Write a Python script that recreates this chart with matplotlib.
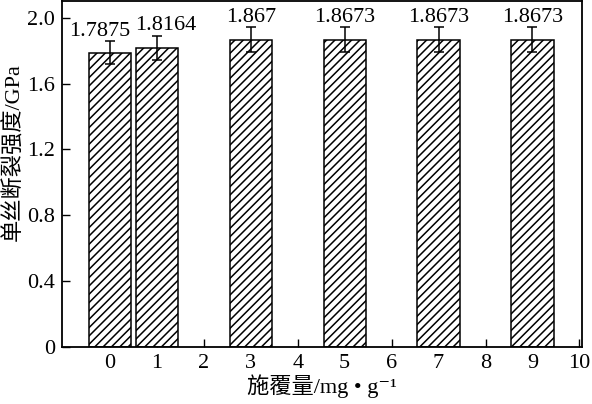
import matplotlib
matplotlib.use('Agg')
import matplotlib.pyplot as plt

positions = [0, 1, 3, 5, 7, 9]
strength = [1.7875, 1.8164, 1.867, 1.8673, 1.8673, 1.8673]
errors = [0.07, 0.075, 0.075, 0.075, 0.075, 0.075]
value_labels = ['1.7875', '1.8164', '1.867', '1.8673', '1.8673', '1.8673']
label_shift = [-0.21, 0.18, 0, 0, 0, 0]
x_ticks = list(range(0, 11))
y_ticks = [0, 0.4, 0.8, 1.2, 1.6, 2.0]
y_tick_labels = ['0', '0.4', '0.8', '1.2', '1.6', '2.0']

fonts = ['Liberation Serif', 'Noto Sans CJK SC', 'DejaVu Serif']
plt.rcParams['font.family'] = fonts
plt.rcParams['font.size'] = 16
plt.rcParams['hatch.linewidth'] = 1.1

fig = plt.figure(figsize=(5.92, 4.04), dpi=100)
ax = fig.add_axes([0.1047, 0.141, 0.878, 0.856])

ax.bar(positions, strength, width=0.9, color='white', edgecolor='black',
       linewidth=1.1, hatch='////', zorder=2)
ax.errorbar(positions, strength, yerr=errors, fmt='none', ecolor='black',
            elinewidth=1.1, capsize=3.5, capthick=1.1, zorder=3)

for x, v, e, lab, dx in zip(positions, strength, errors, value_labels, label_shift):
    ax.text(x + dx, v + e + 0.003, lab, ha='center', va='bottom', fontsize=16)

ax.set_xlim(-1.02, 10.05)
ax.set_ylim(0, 2.1)
ax.set_xticks(x_ticks)
ax.set_yticks(y_ticks)
ax.set_yticklabels(y_tick_labels)
ax.tick_params(direction='in', length=6, width=1, labelsize=16, pad=5)
for s in ax.spines.values():
    s.set_linewidth(1.3)

ax.set_xlabel('施覆量/mg • g⁻¹', fontsize=16, labelpad=1)
ax.set_ylabel('单丝断裂强度/GPa', fontsize=16)
ax.yaxis.set_label_coords(-0.072, 0.565)

fig.savefig('out.png', dpi=100)
